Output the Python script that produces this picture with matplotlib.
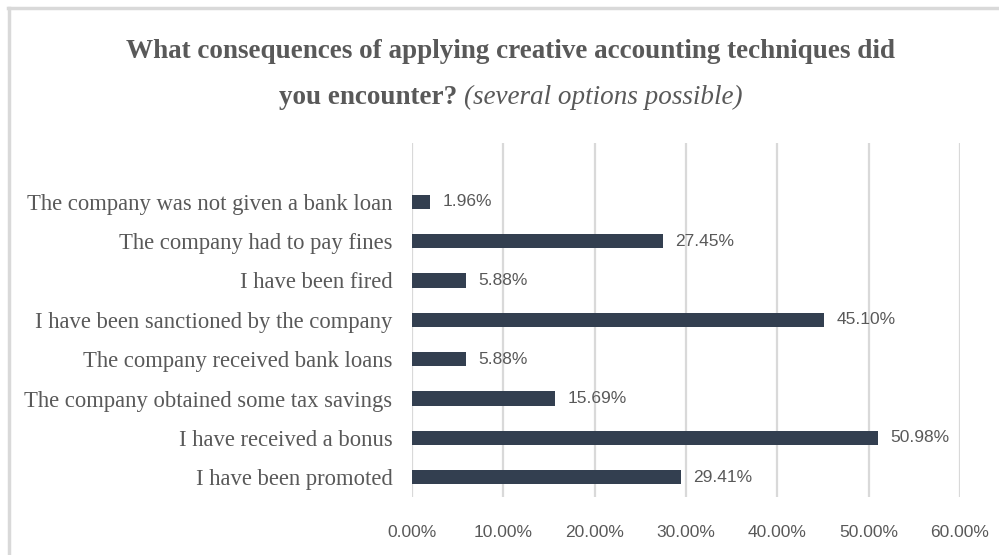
import matplotlib
matplotlib.use('Agg')
import matplotlib.pyplot as plt
from matplotlib.lines import Line2D
from matplotlib.ticker import FuncFormatter

# survey answers, top to bottom as shown in the chart
categories = [
    'The company was not given a bank loan',
    'The company had to pay fines',
    'I have been fired',
    'I have been sanctioned by the company',
    'The company received bank loans',
    'The company obtained some tax savings',
    'I have received a bonus',
    'I have been promoted',
]
shares = [1.96, 27.45, 5.88, 45.10, 5.88, 15.69, 50.98, 29.41]
x_ticks = [0, 10, 20, 30, 40, 50, 60]

BAR = '#333f50'
GREY = '#595959'
GRID = '#d9d9d9'
SERIF = ['Liberation Serif', 'DejaVu Serif']
SANS = ['Liberation Sans', 'DejaVu Sans']

fig = plt.figure(figsize=(9.99, 5.55), dpi=100)
ax = fig.add_axes([412 / 999, 1 - 497 / 555, 548 / 999, 354 / 555])

n = len(categories)
ypos = list(range(n - 1, -1, -1))
ax.barh(ypos, shares, height=0.36, color=BAR, zorder=3)

for y, v in zip(ypos, shares):
    ax.annotate(f'{v:.2f}%', (v, y), xytext=(9, 0), textcoords='offset points',
                va='center', ha='left', fontsize=12.5, color=GREY, family=SANS)

ax.set_xlim(0, 60)
ax.set_ylim(-0.5, n + 0.49)
ax.set_xticks(x_ticks)
ax.xaxis.set_major_formatter(FuncFormatter(lambda v, p: f'{v:.2f}%'))
ax.set_yticks(ypos)
ax.set_yticklabels(categories)
for lab in ax.get_yticklabels():
    lab.set_family(SERIF)
    lab.set_fontsize(16.3)
    lab.set_color(GREY)
for lab in ax.get_xticklabels():
    lab.set_family(SANS)
    lab.set_fontsize(12.5)
    lab.set_color(GREY)
ax.tick_params(axis='y', length=0, pad=14)
ax.tick_params(axis='x', length=0, pad=20)
ax.grid(axis='x', color=GRID, linewidth=1.6, zorder=0)
for s in ax.spines.values():
    s.set_visible(False)

# outer frame (only top and left edges visible in the crop)
fig.add_artist(Line2D([8 / 999, 1], [1 - 8 / 555, 1 - 8 / 555], color=GRID, linewidth=2.5))
fig.add_artist(Line2D([9 / 999, 9 / 999], [0, 1 - 8 / 555], color=GRID, linewidth=2.5))

# title, second line mixes bold and italic
cx = 511 / 999
fig.text(cx, 1 - 52 / 555, 'What consequences of applying creative accounting techniques did',
         ha='center', va='center', fontsize=19.5, fontweight='bold', color=GREY, family=SERIF)
y2 = 1 - 97 / 555
t1 = fig.text(0, y2, 'you encounter? ', ha='left', va='center', fontsize=19.5,
              fontweight='bold', color=GREY, family=SERIF)
t2 = fig.text(0, y2, '(several options possible)', ha='left', va='center', fontsize=19.5,
              style='italic', color=GREY, family=SERIF)
fig.canvas.draw()
r = fig.canvas.get_renderer()
w1 = t1.get_window_extent(r).width / fig.bbox.width
w2 = t2.get_window_extent(r).width / fig.bbox.width
x0 = cx - (w1 + w2) / 2
t1.set_x(x0)
t2.set_x(x0 + w1)

fig.savefig('out.png', dpi=100)
